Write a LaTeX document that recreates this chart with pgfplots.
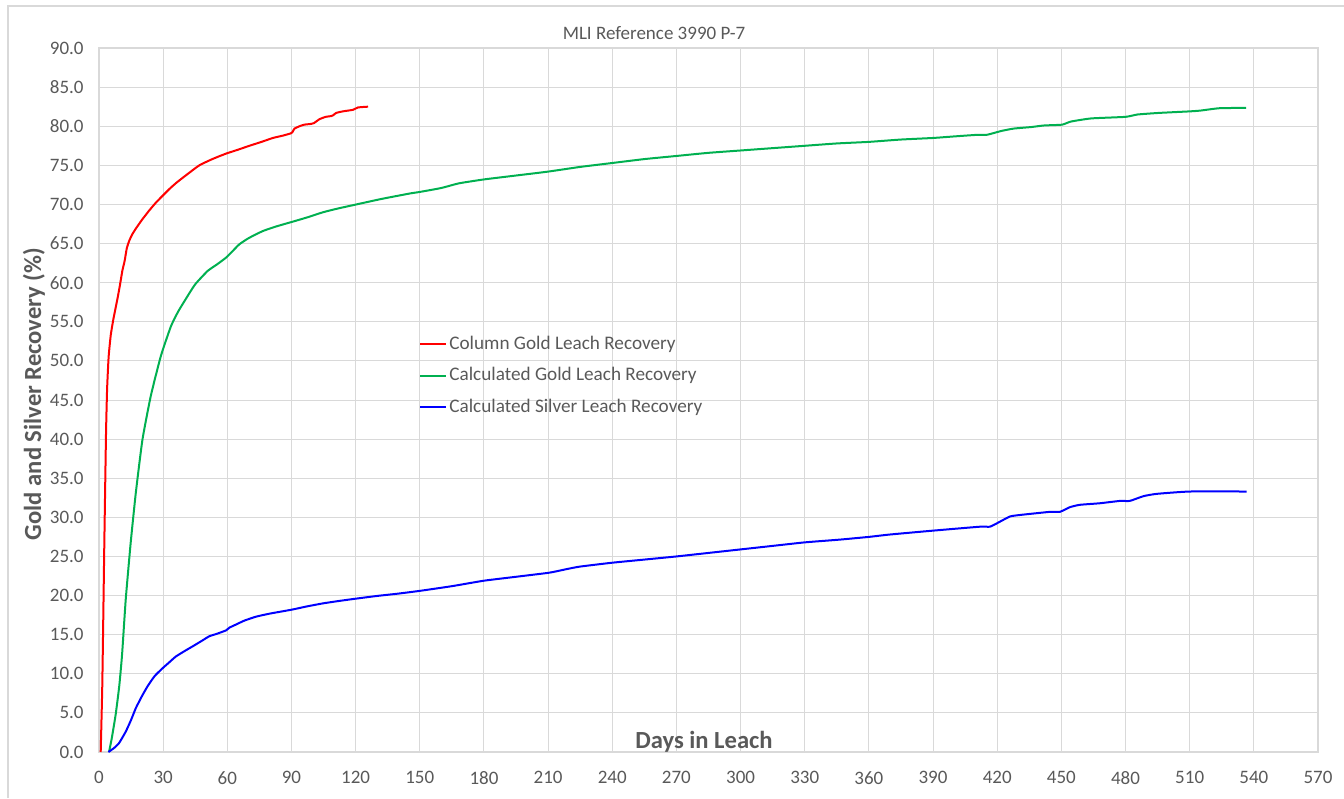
\documentclass[border=0pt]{standalone}
\usepackage{pgfplots}
\pgfplotsset{compat=1.18}
\usepackage{fontspec}
\setmainfont{Carlito}
\definecolor{gridgray}{HTML}{D9D9D9}
\definecolor{textgray}{HTML}{595959}
\definecolor{xlgreen}{HTML}{00B050}
\definecolor{xlred}{HTML}{FF0000}
\definecolor{xlblue}{HTML}{0000FF}
\begin{document}
\begin{tikzpicture}
\path[use as bounding box] (0,0) rectangle (672pt,399pt);
\draw[gridgray, line width=0.8pt] (4pt,0pt) -- (4pt,396pt) -- (672pt,396pt);
\node[text=textgray, font=\fontsize{9.5}{11}\selectfont] at (327pt,382.5pt) {MLI Reference 3990 P-7};
\begin{axis}[
  at={(49.5pt,23pt)}, anchor=south west,
  scale only axis, width=609.5pt, height=352pt,
  xmin=0, xmax=570, ymin=0, ymax=90,
  xtick={0,30,...,570}, ytick={0,5,...,90},
  grid=major, grid style={color=gridgray, line width=0.5pt},
  axis line style={draw=gridgray, line width=0.6pt},
  major tick length=0pt,
  tick label style={font=\fontsize{9.5}{11}\selectfont, text=textgray},
  /pgf/number format/assume math mode=true,
  yticklabel style={anchor=east, inner sep=0pt, xshift=-7.5pt, /pgf/number format/.cd, fixed, fixed zerofill, precision=1},
  xticklabel style={anchor=north, inner sep=0pt, yshift=-9.5pt},
  xlabel={Days in Leach},
  ylabel={Gold and Silver Recovery (\%)},
  label style={font=\fontsize{12.3}{14}\selectfont\bfseries, text=textgray},
  xlabel style={at={(axis description cs:0.4963,0.0043)}, anchor=base},
  ylabel style={at={(axis description cs:-0.0533,0.5085)}, anchor=center},
  legend style={at={(axis description cs:0.2625,0.6)}, anchor=north west, draw=none, fill=none,
    font=\fontsize{9.6}{11}\selectfont, text=textgray, row sep=5.6pt, inner xsep=0pt,
    nodes={inner sep=1pt}},
  legend cell align=left,
  legend image code/.code={\draw[#1] (0pt,0pt) -- (13pt,0pt);},
  every axis plot/.append style={line width=1pt, mark=none, smooth, tension=0.3},
]
\addplot[xlred] coordinates {
(0.8,0)(1.5,8)(1.9,15.2)(2.4,25)(2.8,32.3)(3.3,41)(3.8,46.5)(4.5,50.5)(5.5,53.3)(6.7,55.3)(8.6,57.9)(9.8,59.7)(10.9,61.5)(12.0,62.8)(13.0,64.4)(14.2,65.4)(15.6,66.2)(17.2,66.9)(20,68)(23.4,69.2)(26.5,70.2)(29.7,71.1)(33,72)(36.3,72.8)(41,73.8)(46.9,75.0)(53,75.8)(59.4,76.5)(65,77.0)(70.3,77.5)(76,78.0)(81.3,78.5)(86,78.8)(89.8,79.1)(90.6,79.3)(91.4,79.7)(93.75,80.0)(96,80.2)(99.2,80.3)(100.5,80.4)(103.1,80.9)(106,81.2)(108.6,81.3)(109.5,81.4)(110.9,81.7)(114,81.9)(118.75,82.1)(121.1,82.4)(125.8,82.5)
};
\addlegendentry{Column Gold Leach Recovery}
\addplot[xlgreen] coordinates {
(4.7,0)(6,1.8)(7.8,4.8)(9.5,8.5)(10.8,12.5)(12.5,19.5)(14.8,26.7)(17.2,33.1)(20.3,39.9)(24.2,45.5)(28.9,50.6)(33.6,54.4)(37,56.3)(41,58.1)(45,59.8)(50.8,61.5)(55,62.3)(59.4,63.2)(62,63.9)(65.6,64.9)(70,65.7)(76.6,66.6)(83,67.2)(90.6,67.8)(98,68.4)(104.7,69.0)(112,69.5)(120.3,70.0)(132,70.7)(145.3,71.4)(150,71.6)(160,72.1)(168.3,72.7)(180,73.2)(195,73.7)(210,74.2)(225,74.8)(240,75.3)(255,75.8)(270,76.2)(285,76.6)(300,76.9)(315,77.2)(330,77.5)(345,77.8)(360,78.0)(375,78.3)(390,78.5)(400,78.7)(410.6,78.9)(415,78.9)(418,79.1)(422,79.4)(427.7,79.7)(436,79.9)(442,80.1)(450.3,80.2)(454.5,80.6)(464,81.0)(480,81.2)(485.6,81.5)(495.5,81.7)(510,81.9)(515,82.0)(523.8,82.3)(536.4,82.35)
};
\addlegendentry{Calculated Gold Leach Recovery}
\addplot[xlblue] coordinates {
(4.4,0)(7,0.5)(9.4,1.15)(12.5,2.6)(15,4.1)(17.2,5.6)(20,7.1)(22.7,8.4)(26,9.7)(29.7,10.7)(33,11.5)(35.9,12.2)(40,12.9)(43.75,13.5)(48,14.2)(51.6,14.8)(55,15.1)(59.4,15.55)(61,15.9)(64.1,16.3)(68,16.8)(73.4,17.3)(80,17.7)(90.2,18.2)(97,18.6)(104.7,19.0)(112,19.3)(120,19.6)(130,19.95)(140,20.25)(150,20.6)(165,21.2)(180,21.9)(195,22.4)(210,22.9)(213.9,23.1)(219,23.4)(224.8,23.7)(240,24.2)(255,24.6)(270,25.0)(285,25.45)(300,25.9)(315,26.35)(330,26.8)(346.3,27.15)(360,27.5)(369.7,27.8)(390,28.3)(411.8,28.8)(416.5,28.8)(419.6,29.2)(425.9,30.1)(430.6,30.3)(444.6,30.7)(449.3,30.7)(454,31.3)(458.6,31.6)(468,31.8)(477.4,32.1)(482,32.1)(488.3,32.7)(494.5,33.0)(510,33.3)(536.6,33.3)
};
\addlegendentry{Calculated Silver Leach Recovery}
\end{axis}
\end{tikzpicture}
\end{document}
